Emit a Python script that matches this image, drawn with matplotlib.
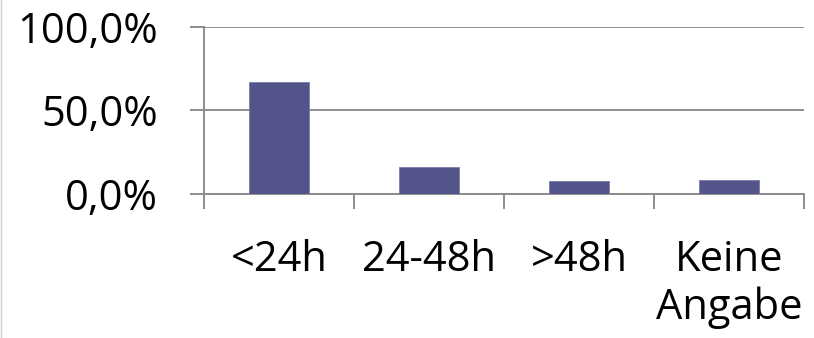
import matplotlib
matplotlib.use("Agg")
import matplotlib.pyplot as plt
from matplotlib.ticker import FuncFormatter

categories = ["<24h", "24-48h", ">48h", "Keine\nAngabe"]
values = [67.0, 15.7, 7.3, 8.3]
y_ticks = [0, 50, 100]

plt.rcParams["font.family"] = ["Open Sans", "DejaVu Sans"]

BAR = "#52548A"
GRID = "#8C8C8C"

fig = plt.figure(figsize=(8.14, 3.38), dpi=100)
ax = fig.add_axes([0.2506, 0.4275, 0.737, 0.4926])

x = range(len(categories))
ax.bar(x, values, width=0.4, color=BAR, edgecolor="#7A7CA8", linewidth=0.6, zorder=3)

ax.set_xlim(-0.5, len(categories) - 0.5)
ax.set_ylim(0, 100)
ax.set_yticks(y_ticks)
ax.yaxis.set_major_formatter(FuncFormatter(lambda v, p: f"{v:.1f}%".replace(".", ",")))
ax.yaxis.grid(True, color=GRID, linewidth=1.4, zorder=0)

ax.set_xticks(list(x))
ax.set_xticklabels(categories, linespacing=1.15)
ax.set_xticks([i - 0.5 for i in range(len(categories) + 1)], minor=True)
ax.tick_params(axis="x", which="major", length=0, pad=33, labelsize=30)
ax.tick_params(axis="x", which="minor", length=11, width=1.4, color=GRID, direction="out")
ax.tick_params(axis="y", length=10, width=1.4, color=GRID, pad=23, labelsize=30)

for s in ["top", "right"]:
    ax.spines[s].set_visible(False)
for s in ["left", "bottom"]:
    ax.spines[s].set_color(GRID)
    ax.spines[s].set_linewidth(1.4)

# light frame edge at the left of the image
fig.add_artist(plt.Line2D([0.001, 0.001], [0, 1], color="#D0D0D0", linewidth=1))

fig.savefig("out.png", dpi=100)
